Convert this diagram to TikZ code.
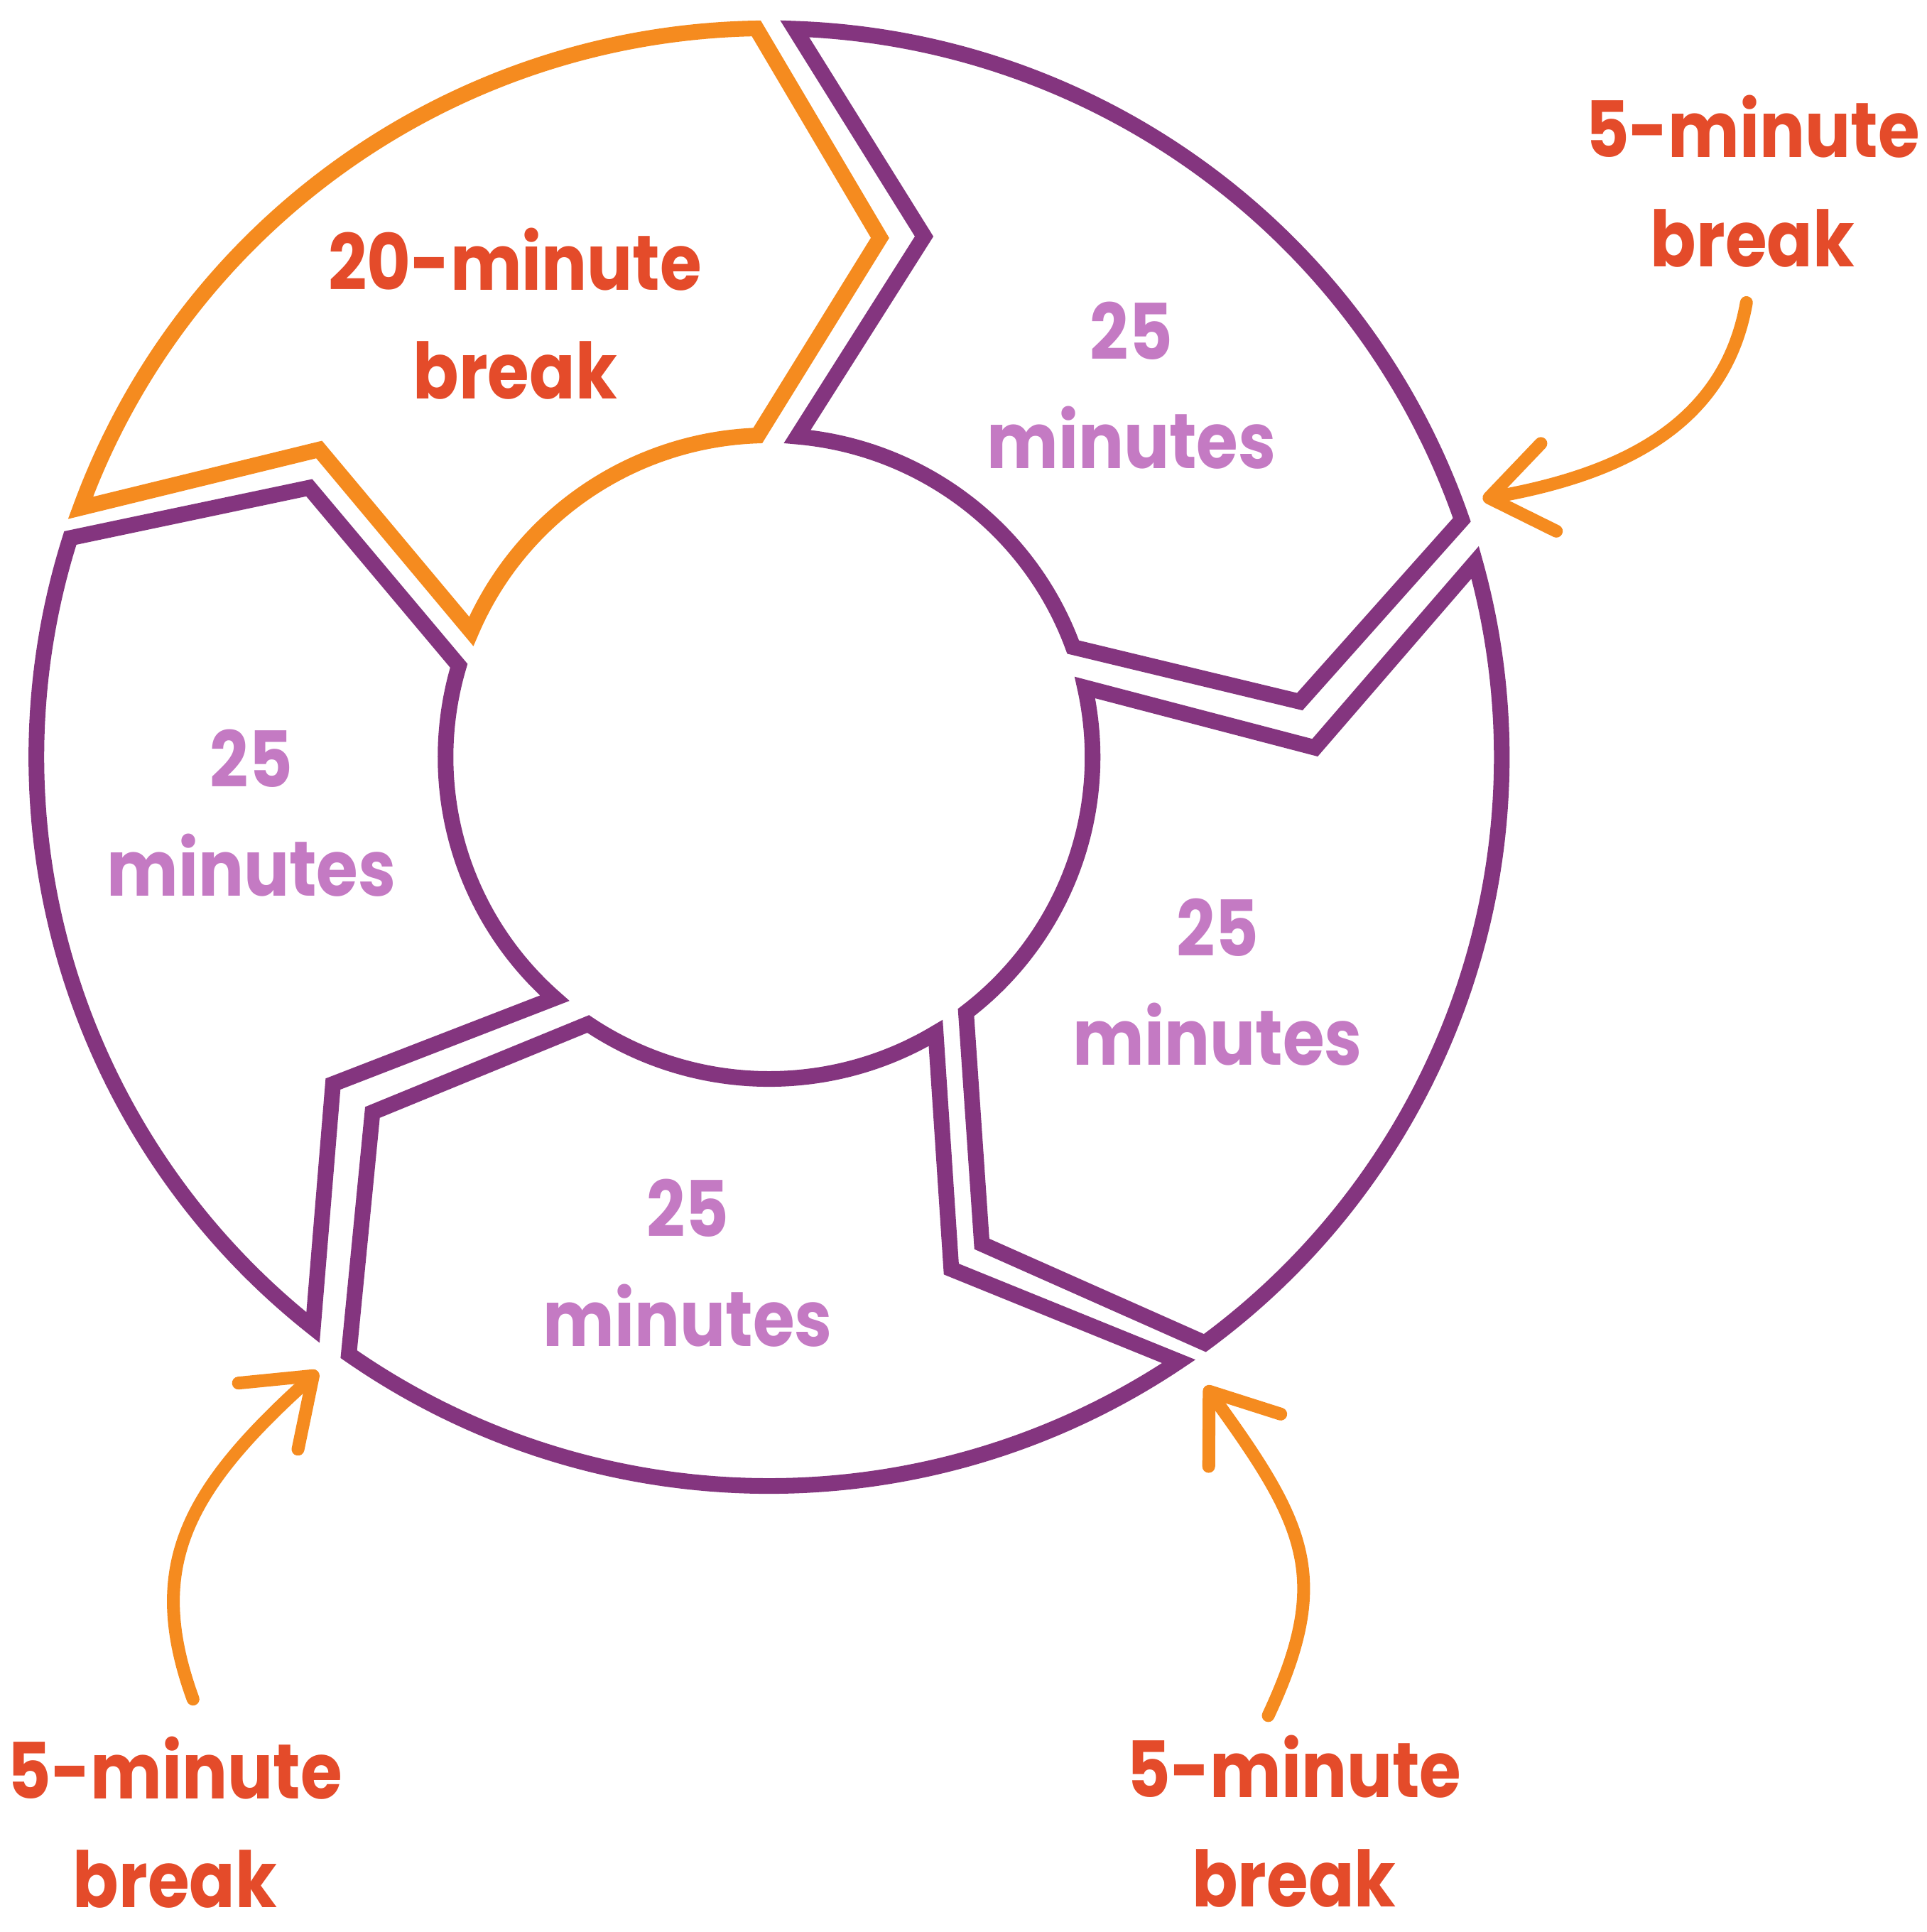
\documentclass[tikz,border=0pt]{standalone}
\usepackage{fontspec}
\setmainfont{Poppins}[FakeStretch=0.87]
\usetikzlibrary{arrows.meta}

\definecolor{ringpurple}{RGB}{132,53,127}
\definecolor{breakorange}{RGB}{245,139,31}
\definecolor{breakred}{RGB}{228,75,42}
\definecolor{minpurple}{RGB}{196,122,195}

\tikzset{
  ringline/.style={line width=0.22cm, line join=miter},
  worktxt/.style={text=minpurple, font=\fontsize{31}{43.5}\selectfont\bfseries, align=center, inner sep=0pt},
  breaktxt/.style={worktxt, text=breakred},
  brkarrow/.style={breakorange, line width=0.18cm, line cap=round,
    -{Straight Barb[length=0.85cm, width=1.25cm, round]}}
}

\begin{document}
\begin{tikzpicture}[x=0.0173cm, y=0.01721cm]
  \useasboundingbox (-624,-958.3) rectangle (939,617.6);

  % the five pieces of the ring, first one is the long break
  \foreach \s/\c in {160/breakorange, 88/ringpurple, 15.5/ringpurple, -56/ringpurple, -128.5/ringpurple}
    \draw[ringline, \c] (\s:594.5) arc[start angle=\s, end angle=\s-69, radius=594.5]
      -- ({\s-82}:433) -- ({\s-68}:262.5)
      arc[start angle=\s-68, end angle=\s-3, radius=262.5]
      -- ({\s-14.5}:443) -- cycle;

  \node[breaktxt] (longbreak) at (-206,361.8) {20-minute\\break};
  \node[worktxt] (work1) at (294,303) {25\\minutes};
  \node[worktxt] (work2) at (364,-183.4) {25\\minutes};
  \node[worktxt] (work3) at (-66,-412.6) {25\\minutes};
  \node[worktxt] (work4) at (-420,-45.7) {25\\minutes};

  \node[breaktxt] (short1) at (798,469.8) {5-minute\\break};
  \node[breaktxt] (short2) at (426,-868) {5-minute\\break};
  \node[breaktxt] (short3) at (-482,-868.8) {5-minute\\break};

  \coordinate (gap1) at (579,210.6);
  \coordinate (gap2) at (354,-513);
  \coordinate (gap3) at (-366,-501);

  \draw[brkarrow, shorten <=0.5cm] (short1.south) to[out=-100, in=10, looseness=1.1] (gap1);
  \draw[brkarrow, shorten <=0.3cm] (short2.112) to[out=65, in=-54, looseness=1.25] (gap2);
  \draw[brkarrow, shorten <=0.55cm] (short3.70) to[out=110, in=222, looseness=1.2] (gap3);
\end{tikzpicture}
\end{document}
